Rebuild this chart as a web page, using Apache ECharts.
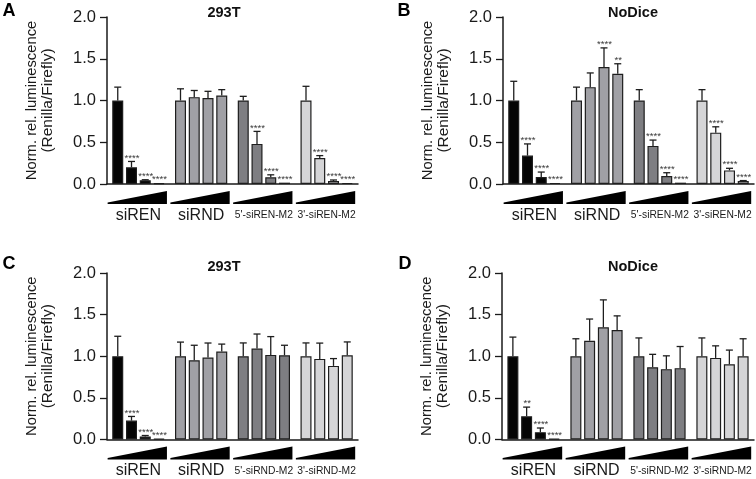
<!DOCTYPE html>
<html><head><meta charset="utf-8">
<script src="https://cdn.jsdelivr.net/npm/echarts@6/dist/echarts.min.js"></script>
<style>html,body{margin:0;padding:0;background:#fff}#c{width:756px;height:479px}</style>
</head><body><div id="c"></div>
<script>
// ---------- data ----------
const groupsTop = ['siREN', 'siRND', "5'-siREN-M2", "3'-siREN-M2"];
const groupsBottom = ['siREN', 'siRND', "5'-siRND-M2", "3'-siRND-M2"];
const yTickMin = 0, yTickMax = 2.0, yTickStep = 0.5;

// rows = group, cols = increasing dose (4 bars)
const meanA = [[1.0, 0.20, 0.045, 0.01], [1.0, 1.04, 1.03, 1.06], [1.0, 0.48, 0.08, 0.016], [1.0, 0.31, 0.036, 0.012]];
const errA  = [[0.16, 0.07, 0.006, 0], [0.14, 0.08, 0.08, 0.07], [0.05, 0.15, 0.03, 0], [0.17, 0.03, 0.012, 0]];
const sigA  = [['', '****', '****', '****'], ['', '', '', ''], ['', '****', '****', '****'], ['', '****', '****', '****']];

const meanB = [[1.0, 0.34, 0.083, 0.012], [1.0, 1.16, 1.40, 1.32], [1.0, 0.456, 0.095, 0.016], [1.0, 0.615, 0.163, 0.036]];
const errB  = [[0.23, 0.14, 0.06, 0], [0.16, 0.17, 0.23, 0.12], [0.13, 0.07, 0.04, 0], [0.13, 0.07, 0.025, 0.005]];
const sigB  = [['', '****', '****', '****'], ['', '', '****', '**'], ['', '****', '****', '****'], ['', '****', '****', '****']];

const meanC = [[1.0, 0.227, 0.036, 0.008], [1.0, 0.952, 0.984, 1.056], [1.0, 1.092, 1.016, 1.012], [1.0, 0.968, 0.884, 1.012]];
const errC  = [[0.24, 0.05, 0.012, 0], [0.17, 0.18, 0.175, 0.09], [0.16, 0.175, 0.22, 0.12], [0.16, 0.19, 0.088, 0.16]];
const sigC  = [['', '****', '****', '****'], ['', '', '', ''], ['', '', '', ''], ['', '', '', '']];

const meanD = [[1.0, 0.279, 0.088, 0.008], [1.0, 1.187, 1.347, 1.315], [1.0, 0.868, 0.845, 0.857], [1.0, 0.98, 0.904, 1.0]];
const errD  = [[0.23, 0.11, 0.05, 0], [0.21, 0.26, 0.33, 0.17], [0.22, 0.155, 0.16, 0.26], [0.22, 0.145, 0.17, 0.21]];
const sigD  = [['', '**', '****', '****'], ['', '', '', ''], ['', '', '', ''], ['', '', '', '']];

// ---------- style / layout ----------
const groupColors = ['#050505', '#a0a0a5', '#7e7e82', '#d5d5d7'];
const BW = 11, GAP = 2.75;
const FONT = 'Liberation Sans, Arial, sans-serif';
const panels = [
  {letter: 'A', title: '293T', groups: groupsTop, mean: meanA, err: errA, sig: sigA, grid: {left: 107, top: 17, width: 251, height: 167}, lx: 9, ly: 11, tx: 224, ty: 13},
  {letter: 'B', title: 'NoDice', groups: groupsTop, mean: meanB, err: errB, sig: sigB, grid: {left: 503, top: 17, width: 251, height: 167}, lx: 404, ly: 11, tx: 633, ty: 13},
  {letter: 'C', title: '293T', groups: groupsBottom, mean: meanC, err: errC, sig: sigC, grid: {left: 107, top: 273, width: 251, height: 167}, lx: 9, ly: 264, tx: 224, ty: 267},
  {letter: 'D', title: 'NoDice', groups: groupsBottom, mean: meanD, err: errD, sig: sigD, grid: {left: 502, top: 273, width: 252, height: 167}, lx: 405, ly: 264, tx: 633, ty: 267}
];

const grids = [], xAxes = [], yAxes = [], series = [], graphics = [];
panels.forEach((p, pi) => {
  grids.push(Object.assign({containLabel: false}, p.grid));
  xAxes.push({
    type: 'category', gridIndex: pi, data: p.groups,
    axisLine: {lineStyle: {color: '#1a1a1a', width: 1.5}},
    axisTick: {show: false},
    axisLabel: {
      interval: 0, margin: 23, color: '#1a1a1a', fontFamily: FONT,
      formatter: v => (v.length > 6 ? '{s|' + v + '}' : '{b|' + v + '}'),
      rich: {
        b: {fontSize: 16, lineHeight: 17, fontFamily: FONT, color: '#1a1a1a'},
        s: {fontSize: 10.3, lineHeight: 17, fontFamily: FONT, color: '#1a1a1a'}
      }
    }
  });
  yAxes.push({
    type: 'value', gridIndex: pi, min: yTickMin, max: yTickMax, interval: yTickStep,
    name: '{a|Norm. rel. luminescence}\n{b|(Renilla/Firefly)}',
    nameLocation: 'middle', nameRotate: 90, nameGap: 52,
    nameTextStyle: {fontSize: 14.5, lineHeight: 15, fontFamily: FONT, color: '#1a1a1a',
      rich: {a: {fontSize: 14.8, lineHeight: 15.5, fontFamily: FONT, color: '#1a1a1a'}, b: {fontSize: 15.5, lineHeight: 15.5, fontFamily: FONT, color: '#1a1a1a'}}},
    axisLine: {show: true, lineStyle: {color: '#1a1a1a', width: 1.5}},
    axisTick: {show: true, length: 7, lineStyle: {color: '#1a1a1a', width: 1.3}},
    axisLabel: {fontSize: 16.5, margin: 11, color: '#1a1a1a', fontFamily: FONT, formatter: v => v.toFixed(1)},
    splitLine: {show: false}
  });
  for (let d = 0; d < 4; d++) {
    series.push({
      type: 'bar', xAxisIndex: pi, yAxisIndex: pi,
      data: p.mean.map(g => g[d]),
      barWidth: BW, barGap: (GAP / BW * 100) + '%',
      itemStyle: {color: prm => groupColors[prm.dataIndex], borderColor: '#1e1e1e', borderWidth: 1.2},
      emphasis: {disabled: true}, silent: true, z: 2
    });
  }
  const errData = [], sigList = [];
  p.mean.forEach((row, g) => row.forEach((m, d) => { errData.push([g, d, m, p.err[g][d]]); sigList.push(p.sig[g][d]); }));
  series.push({
    type: 'custom', xAxisIndex: pi, yAxisIndex: pi, clip: false, z: 3, silent: true,
    encode: {x: 0, y: 2},
    data: errData,
    renderItem: (params, api) => {
      const g = api.value(0), d = api.value(1), m = api.value(2), e = api.value(3);
      const base = api.coord([g, m]);
      const x = base[0] + (d - 1.5) * (BW + GAP);
      const top = api.coord([g, m + e])[1];
      const ch = [];
      if (e > 0.004) {
        ch.push({type: 'line', shape: {x1: x, y1: base[1], x2: x, y2: top}, style: {stroke: '#1e1e1e', lineWidth: 1.3}});
        ch.push({type: 'line', shape: {x1: x - 3.5, y1: top, x2: x + 3.5, y2: top}, style: {stroke: '#1e1e1e', lineWidth: 1.3}});
      }
      const s = sigList[params.dataIndex];
      if (s) {
        ch.push({type: 'text', x: x + 0.5, y: Math.min(top, base[1]) + 1.5, style: {text: s, fill: '#3a3a3a', fontSize: 9.5, fontFamily: FONT, textAlign: 'center', textVerticalAlign: 'bottom'}});
      }
      return {type: 'group', children: ch};
    }
  });
  series.push({
    type: 'custom', xAxisIndex: pi, yAxisIndex: pi, clip: false, silent: true,
    encode: {x: 0, y: 1},
    data: p.groups.map((_, g) => [g, 0]),
    renderItem: (params, api) => {
      const c = api.coord([api.value(0), 0]);
      const w = api.size([1, 0])[0];
      const x0 = c[0] - w * 0.49, x1 = c[0] + w * 0.455;
      return {type: 'polygon', shape: {points: [[x0, c[1] + 18.5], [x1, c[1] + 7], [x1, c[1] + 20], [x0, c[1] + 20]]}, style: {fill: '#000'}};
    }
  });
  graphics.push({type: 'text', x: p.lx, y: p.ly, style: {text: p.letter, fontSize: 18, fontWeight: 'bold', fontFamily: FONT, fill: '#000', textAlign: 'center', textVerticalAlign: 'middle'}});
  graphics.push({type: 'text', x: p.tx, y: p.ty, style: {text: p.title, fontSize: 14.5, fontWeight: 'bold', fontFamily: FONT, fill: '#111', textAlign: 'center', textVerticalAlign: 'middle'}});
});

const chart = echarts.init(document.getElementById('c'), null, {renderer: 'canvas'});
chart.setOption({
  animation: false, backgroundColor: '#fff',
  grid: grids, xAxis: xAxes, yAxis: yAxes, series: series, graphic: graphics
});
</script></body></html>
